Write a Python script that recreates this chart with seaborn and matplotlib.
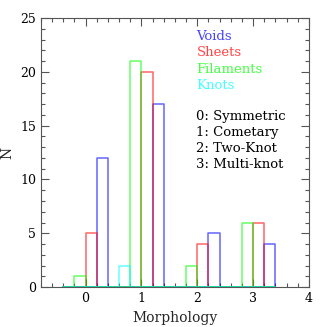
import numpy as np
import pandas as pd
import seaborn as sns
import matplotlib.pyplot as plt
from matplotlib.colors import to_rgba
from matplotlib.ticker import MultipleLocator

# --- DATA ---
morph = [0, 1, 2, 3]
voids = [12, 17, 5, 4]
sheets = [5, 20, 4, 6]
filaments = [1, 21, 2, 6]
knots = [0, 2, 0, 0]
morph_labels = ["0: Symmetric", "1: Cometary", "2: Two-Knot", "3: Multi-knot"]

series = [
    ("Voids", voids, 0.3, "blue", "#4646ff"),
    ("Sheets", sheets, 0.1, "red", "#ff4646"),
    ("Filaments", filaments, -0.1, "lime", "#46ff46"),
    ("Knots", knots, -0.3, "cyan", "#46ffff"),
]

sns.set_style("ticks")
plt.rcParams['font.family'] = ['DejaVu Serif']

fig, ax = plt.subplots(figsize=(3.27, 3.27), dpi=100)
fig.subplots_adjust(left=0.125, right=0.945, top=0.945, bottom=0.122)

for name, counts, shift, col, tcol in series:
    df = pd.DataFrame({"x": np.array(morph) + shift, "w": counts})
    sns.histplot(data=df, x="x", weights="w", binwidth=0.2, binrange=(-0.4, 3.4),
                 element="step", fill=True, color=col, facecolor="none",
                 edgecolor=to_rgba(col, 0.6), linewidth=1.1, ax=ax)

ax.set_xlim(-0.8, 4)
ax.set_ylim(0, 25)
ax.xaxis.set_major_locator(MultipleLocator(1))
ax.xaxis.set_minor_locator(MultipleLocator(0.2))
ax.yaxis.set_major_locator(MultipleLocator(5))
ax.yaxis.set_minor_locator(MultipleLocator(1))
ax.tick_params(which='both', direction='in', top=True, right=True,
               colors='#555555', labelcolor='black', labelsize=9, width=0.8)
ax.tick_params(which='major', length=6)
ax.tick_params(which='minor', length=3)
for s in ax.spines.values():
    s.set_color('#555555')
    s.set_linewidth(0.8)
ax.set_xlabel("Morphology", fontsize=10)
ax.set_ylabel("N", fontsize=10)

# legend text
for i, (name, counts, shift, col, tcol) in enumerate(series):
    ax.text(0.58, 0.93 - i * 0.06, name, color=tcol, fontsize=9.5,
            transform=ax.transAxes, va='center')
for i, lab in enumerate(morph_labels):
    ax.text(0.58, 0.635 - i * 0.06, lab, color='black', fontsize=9.5,
            transform=ax.transAxes, va='center')

plt.savefig("out.png", dpi=100)
